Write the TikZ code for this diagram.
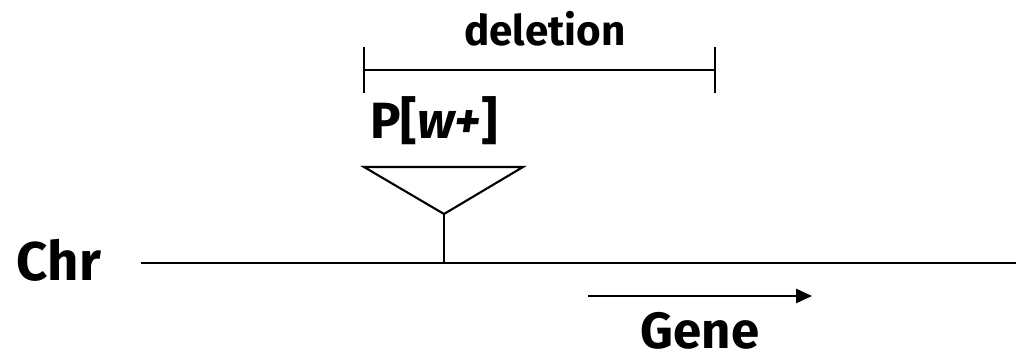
\documentclass[tikz,border=0pt]{standalone}
\usepackage{fontspec}
\setmainfont{Fira Sans}
\usepackage{tikz}
\usetikzlibrary{arrows.meta}

\begin{document}
\begin{tikzpicture}[x=0.02cm,y=-0.02cm,line width=1.2pt]
\tikzset{lbl/.style={inner sep=0pt,font=\fontsize{24}{28}\selectfont\bfseries},
  biglbl/.style={lbl,font=\fontsize{29}{32}\selectfont\bfseries}}
\useasboundingbox (0,0) rectangle (1018,364);
% deletion bracket
\coordinate (dl) at (364,70);
\coordinate (dr) at (715,70);
\draw (dl) -- (dr);
\draw ([yshift=13]dl) -- ([yshift=-13]dl);
\draw ([yshift=13]dr) -- ([yshift=-13]dr);
\node[lbl] (del) at (545,29) {deletion};
% P element
\node[biglbl] (pw) at (434,121) {P[\textit{w+}]};
\coordinate (tl) at (364,167);
\coordinate (tr) at (523,167);
\coordinate (tip) at (444,214);
\draw (tl) -- (tr) -- (tip) -- cycle;
% chromosome
\coordinate (c1) at (141,263);
\coordinate (c2) at (1016,263);
\coordinate (ins) at (444,263);
\draw (c1) -- (c2);
\draw (tip) -- (ins);
\node[biglbl,font=\fontsize{31}{34}\selectfont\bfseries] (chr) at (59,260) {Chr};
% gene
\coordinate (g1) at (588,296);
\coordinate (g2) at (812,296);
\draw[-{Triangle[length=9pt,width=8pt]}] (g1) -- (g2);
\node[biglbl] (gene) at (700,331) {Gene};
\end{tikzpicture}
\end{document}
